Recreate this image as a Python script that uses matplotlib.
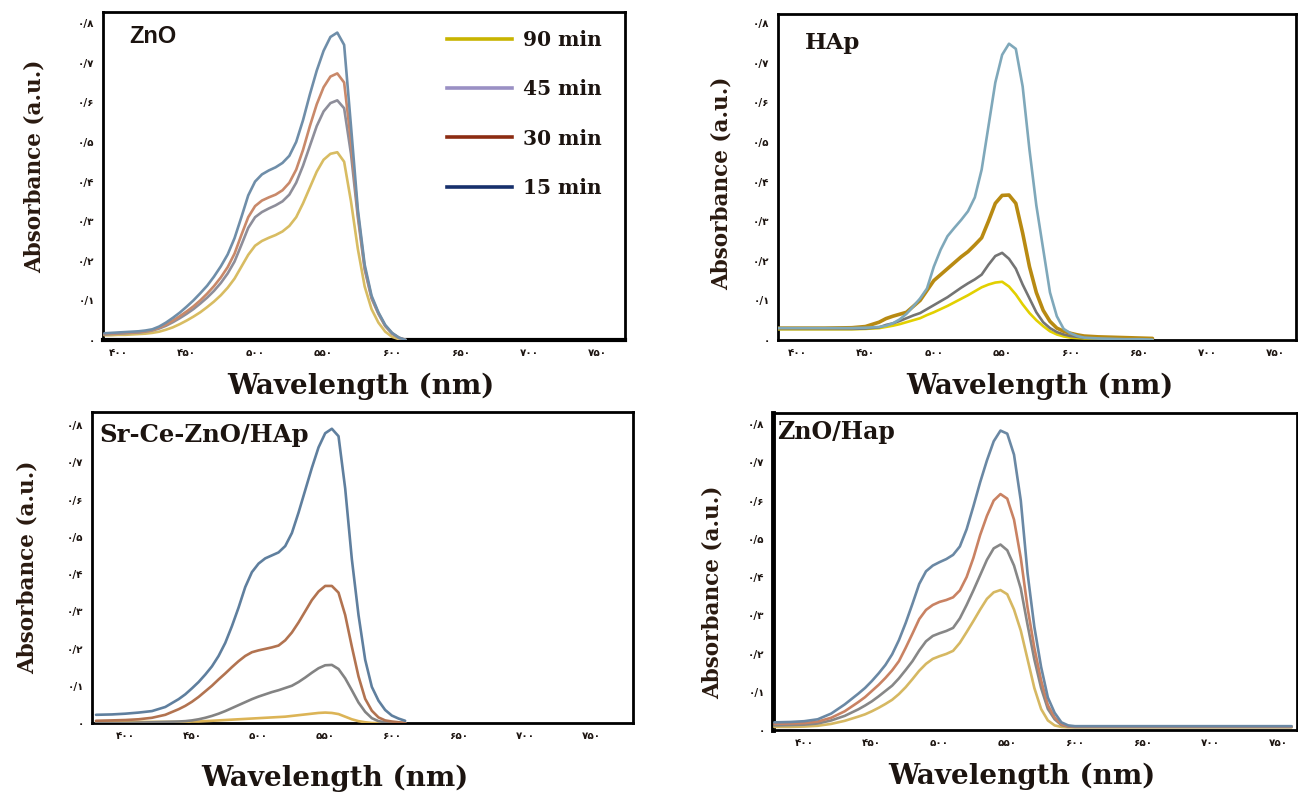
import matplotlib
matplotlib.use("Agg")
import matplotlib.pyplot as plt
from matplotlib.lines import Line2D

# ---------------- data ----------------
y_ticks = [0.0, 0.1, 0.2, 0.3, 0.4, 0.5, 0.6, 0.7, 0.8]
y_tick_labels = ['۰', '۰/۱', '۰/۲', '۰/۳', '۰/۴', '۰/۵', '۰/۶', '۰/۷', '۰/۸']
x_ticks = [400, 450, 500, 550, 600, 650, 700, 750]
x_tick_labels = ['۴۰۰', '۴۵۰', '۵۰۰', '۵۵۰', '۶۰۰', '۶۵۰', '۷۰۰', '۷۵۰']
legend_labels = ['90 min', '45 min', '30 min', '15 min']

# Panel ZnO
wl_zno = [390, 395, 400, 405, 410, 415, 420, 425, 430, 435, 440, 445, 450, 455, 460,
          465, 470, 475, 480, 485, 490, 495, 500, 505, 510, 515, 520, 525, 530, 535,
          540, 545, 550, 555, 560, 565, 570, 575, 580, 585, 590, 595, 600, 605, 610]
zno_15 = [0.017, 0.018, 0.019, 0.020, 0.021, 0.022, 0.024, 0.027, 0.034, 0.044, 0.056, 0.069,
          0.084, 0.100, 0.118, 0.137, 0.160, 0.186, 0.216, 0.257, 0.310, 0.365, 0.400, 0.418,
          0.428, 0.436, 0.447, 0.465, 0.500, 0.555, 0.620, 0.680, 0.730, 0.765, 0.776, 0.745,
          0.540, 0.330, 0.190, 0.112, 0.070, 0.038, 0.018, 0.006, 0.000]
zno_30 = [0.015, 0.016, 0.017, 0.018, 0.019, 0.020, 0.022, 0.025, 0.031, 0.039, 0.049, 0.060,
          0.072, 0.085, 0.100, 0.117, 0.136, 0.158, 0.184, 0.218, 0.265, 0.310, 0.338, 0.352,
          0.360, 0.367, 0.378, 0.397, 0.430, 0.480, 0.540, 0.595, 0.638, 0.665, 0.673, 0.650,
          0.500, 0.320, 0.183, 0.108, 0.068, 0.036, 0.017, 0.006, 0.000]
zno_45 = [0.014, 0.015, 0.016, 0.017, 0.018, 0.019, 0.021, 0.024, 0.029, 0.036, 0.045, 0.055,
          0.066, 0.078, 0.092, 0.107, 0.124, 0.144, 0.168, 0.198, 0.240, 0.283, 0.310, 0.323,
          0.332, 0.340, 0.350, 0.367, 0.397, 0.440, 0.490, 0.540, 0.577, 0.598, 0.605, 0.585,
          0.470, 0.310, 0.178, 0.105, 0.066, 0.035, 0.016, 0.005, 0.000]
zno_90 = [0.012, 0.012, 0.013, 0.013, 0.014, 0.015, 0.016, 0.018, 0.021, 0.026, 0.032, 0.040,
          0.049, 0.059, 0.070, 0.083, 0.097, 0.113, 0.132, 0.155, 0.185, 0.215, 0.238, 0.250,
          0.258, 0.265, 0.274, 0.288, 0.310, 0.345, 0.385, 0.425, 0.455, 0.470, 0.474, 0.450,
          0.350, 0.230, 0.135, 0.078, 0.044, 0.021, 0.008, 0.002, 0.000]

# Panel HAp
wl_hap = [385, 400, 420, 440, 450, 460, 465, 470, 475, 480, 485, 490, 495, 500, 505, 510,
          515, 520, 525, 530, 535, 540, 545, 550, 555, 560, 565, 570, 575, 580, 585, 590,
          595, 600, 605, 610, 620, 630, 640, 650, 660]
hap_15 = [0.030, 0.030, 0.030, 0.030, 0.031, 0.033, 0.036, 0.042, 0.052, 0.066, 0.085, 0.105,
          0.130, 0.185, 0.228, 0.262, 0.283, 0.303, 0.325, 0.360, 0.430, 0.540, 0.650, 0.720,
          0.748, 0.735, 0.640, 0.480, 0.340, 0.230, 0.120, 0.060, 0.028, 0.017, 0.010, 0.006,
          0.004, 0.003, 0.002, 0.002, 0.001]
hap_30 = [0.030, 0.030, 0.030, 0.031, 0.034, 0.045, 0.054, 0.060, 0.065, 0.070, 0.085, 0.100,
          0.125, 0.150, 0.165, 0.180, 0.195, 0.210, 0.223, 0.240, 0.258, 0.300, 0.345, 0.365,
          0.366, 0.345, 0.270, 0.185, 0.120, 0.075, 0.047, 0.030, 0.022, 0.017, 0.013, 0.010,
          0.008, 0.007, 0.006, 0.005, 0.004]
hap_45 = [0.028, 0.028, 0.028, 0.028, 0.029, 0.032, 0.038, 0.042, 0.048, 0.055, 0.062, 0.068,
          0.078, 0.088, 0.098, 0.108, 0.120, 0.132, 0.143, 0.153, 0.165, 0.190, 0.212, 0.220,
          0.205, 0.180, 0.140, 0.105, 0.070, 0.045, 0.030, 0.020, 0.014, 0.010, 0.008, 0.006,
          0.005, 0.004, 0.003, 0.003, 0.002]
hap_90 = [0.027, 0.027, 0.027, 0.027, 0.028, 0.030, 0.033, 0.036, 0.040, 0.045, 0.050, 0.055,
          0.063, 0.070, 0.078, 0.086, 0.095, 0.104, 0.113, 0.123, 0.133, 0.140, 0.145, 0.147,
          0.135, 0.115, 0.090, 0.068, 0.050, 0.035, 0.022, 0.014, 0.009, 0.006, 0.005, 0.004,
          0.004, 0.003, 0.003, 0.002, 0.002]

# Panel Sr-Ce-ZnO/HAp
wl_srce = [378, 390, 400, 410, 420, 430, 440, 445, 450, 455, 460, 465, 470, 475, 480, 485,
           490, 495, 500, 505, 510, 515, 520, 525, 530, 535, 540, 545, 550, 555, 560, 565,
           570, 575, 580, 585, 590, 595, 600, 605, 610]
srce_15 = [0.022, 0.023, 0.025, 0.028, 0.032, 0.043, 0.064, 0.077, 0.093, 0.110, 0.130, 0.152,
           0.180, 0.215, 0.260, 0.310, 0.365, 0.405, 0.428, 0.442, 0.450, 0.458, 0.475, 0.510,
           0.565, 0.625, 0.685, 0.740, 0.778, 0.790, 0.770, 0.630, 0.440, 0.290, 0.170, 0.097,
           0.060, 0.035, 0.020, 0.012, 0.006]
srce_30 = [0.006, 0.007, 0.008, 0.010, 0.014, 0.022, 0.037, 0.046, 0.057, 0.070, 0.085, 0.100,
           0.117, 0.133, 0.150, 0.166, 0.180, 0.190, 0.195, 0.199, 0.203, 0.208, 0.222, 0.243,
           0.270, 0.300, 0.330, 0.353, 0.368, 0.368, 0.350, 0.290, 0.205, 0.125, 0.065, 0.033,
           0.015, 0.007, 0.004, 0.002, 0.000]
srce_45 = [0.000, 0.000, 0.000, 0.001, 0.002, 0.003, 0.004, 0.005, 0.007, 0.010, 0.014, 0.019,
           0.025, 0.032, 0.040, 0.048, 0.056, 0.064, 0.071, 0.077, 0.083, 0.088, 0.094, 0.100,
           0.110, 0.122, 0.135, 0.147, 0.155, 0.156, 0.145, 0.120, 0.088, 0.055, 0.030, 0.013,
           0.005, 0.002, 0.000, 0.000, 0.000]
srce_90 = [0.004, 0.004, 0.004, 0.003, 0.003, 0.003, 0.003, 0.003, 0.004, 0.004, 0.005, 0.006,
           0.007, 0.008, 0.009, 0.010, 0.011, 0.012, 0.013, 0.014, 0.015, 0.016, 0.017, 0.019,
           0.021, 0.023, 0.025, 0.027, 0.028, 0.027, 0.024, 0.017, 0.010, 0.005, 0.002, 0.000,
           0.000, 0.000, 0.000, 0.000, 0.000]

# Panel ZnO/Hap
wl_znohap = [378, 390, 400, 410, 420, 430, 440, 445, 450, 455, 460, 465, 470, 475, 480, 485,
             490, 495, 500, 505, 510, 515, 520, 525, 530, 535, 540, 545, 550, 555, 560, 565,
             570, 575, 580, 585, 590, 595, 600, 605, 610, 620, 640, 660, 680, 700, 720, 740, 760]
znohap_15 = [0.020, 0.021, 0.023, 0.028, 0.043, 0.067, 0.095, 0.110, 0.128, 0.148, 0.170, 0.198,
             0.235, 0.280, 0.330, 0.382, 0.415, 0.430, 0.439, 0.447, 0.458, 0.480, 0.525, 0.585,
             0.648, 0.705, 0.755, 0.783, 0.775, 0.720, 0.600, 0.410, 0.270, 0.165, 0.085, 0.045,
             0.020, 0.012, 0.010, 0.010, 0.010, 0.010, 0.010, 0.010, 0.010, 0.010, 0.010, 0.010, 0.010]
znohap_30 = [0.016, 0.017, 0.018, 0.022, 0.032, 0.049, 0.073, 0.086, 0.102, 0.118, 0.136, 0.156,
             0.180, 0.215, 0.252, 0.290, 0.314, 0.327, 0.335, 0.340, 0.347, 0.365, 0.400, 0.450,
             0.510, 0.560, 0.600, 0.617, 0.605, 0.550, 0.450, 0.320, 0.215, 0.130, 0.065, 0.033,
             0.015, 0.010, 0.009, 0.009, 0.009, 0.009, 0.009, 0.009, 0.009, 0.009, 0.009, 0.009, 0.009]
znohap_45 = [0.012, 0.013, 0.014, 0.017, 0.025, 0.037, 0.054, 0.064, 0.075, 0.088, 0.102, 0.116,
             0.135, 0.157, 0.180, 0.208, 0.232, 0.246, 0.253, 0.259, 0.267, 0.292, 0.327, 0.365,
             0.405, 0.445, 0.475, 0.485, 0.470, 0.430, 0.370, 0.275, 0.185, 0.110, 0.055, 0.028,
             0.013, 0.009, 0.008, 0.008, 0.008, 0.008, 0.008, 0.008, 0.008, 0.008, 0.008, 0.008, 0.008]
znohap_90 = [0.008, 0.008, 0.009, 0.011, 0.016, 0.024, 0.035, 0.041, 0.049, 0.058, 0.068, 0.079,
             0.094, 0.112, 0.133, 0.155, 0.173, 0.186, 0.193, 0.199, 0.207, 0.228, 0.256, 0.285,
             0.315, 0.343, 0.360, 0.366, 0.355, 0.315, 0.260, 0.185, 0.110, 0.055, 0.025, 0.012,
             0.008, 0.007, 0.007, 0.007, 0.007, 0.007, 0.007, 0.007, 0.007, 0.007, 0.007, 0.007, 0.007]

# ---------------- figure ----------------
W, H = 1298, 796
fig = plt.figure(figsize=(W / 100, H / 100), dpi=100)
fig.patch.set_facecolor('white')

SERIF = ['DejaVu Serif']
DIGITS = ['DejaVu Sans']
TXT = '#1c1410'


def px_axes(left, top, right, bottom):
    return fig.add_axes([left / W, 1 - bottom / H, (right - left) / W, (bottom - top) / H])


panels = [
    dict(box=(103, 12, 625, 340), xlim=(389, 770), ylim=(0, 0.828), wl=wl_zno,
         series=[(zno_90, '#d8bc62', 1.9), (zno_45, '#8e8e9a', 1.9), (zno_30, '#c9896a', 1.9),
                 (zno_15, '#6f8ea9', 1.9)],
         title='ZnO', tfam=['Liberation Sans'], tsize=17, tpos=(0.05, 0.925),
         ylab=(35, 166), xlab=(361, 386)),
    dict(box=(778, 14, 1296, 340), xlim=(386, 765), ylim=(0, 0.823), wl=wl_hap,
         series=[(hap_90, '#e2d000', 1.9), (hap_45, '#747474', 1.9), (hap_30, '#b88a12', 2.6),
                 (hap_15, '#7fa8ba', 1.9)],
         title='HAp', tfam=SERIF, tsize=16.5, tpos=(0.052, 0.912),
         ylab=(722, 183), xlab=(1040, 386)),
    dict(box=(92, 412, 633, 723), xlim=(375, 781), ylim=(0, 0.835), wl=wl_srce,
         series=[(srce_90, '#dcb456', 1.9), (srce_45, '#838383', 1.9), (srce_30, '#b27350', 1.9),
                 (srce_15, '#5f7f9e', 1.9)],
         title='Sr-Ce-ZnO/HAp', tfam=SERIF, tsize=17.5, tpos=(0.013, 0.925),
         ylab=(28, 567), xlab=(335, 778)),
    dict(box=(773, 413, 1297, 730), xlim=(377, 764), ylim=(0, 0.829), wl=wl_znohap,
         series=[(znohap_90, '#d6b862', 1.9), (znohap_45, '#878787', 1.9),
                 (znohap_30, '#c98263', 1.9), (znohap_15, '#6a88a4', 1.9)],
         title='ZnO/Hap', tfam=SERIF, tsize=17, tpos=(0.008, 0.94),
         ylab=(713, 592), xlab=(1022, 776)),
]

axes = []
for p in panels:
    ax = px_axes(*p['box'])
    axes.append(ax)
    for vals, col, lw in p['series']:
        ax.plot(p['wl'], vals, color=col, lw=lw, solid_capstyle='round',
                solid_joinstyle='round', zorder=3)
    ax.set_xlim(*p['xlim'])
    ax.set_ylim(*p['ylim'])
    ax.set_xticks(x_ticks)
    ax.set_xticklabels(x_tick_labels, family=DIGITS, fontsize=7.5, fontweight='bold', color=TXT)
    ax.set_yticks(y_ticks)
    ax.set_yticklabels(y_tick_labels, family=DIGITS, fontsize=7.5, fontweight='bold', color=TXT)
    ax.tick_params(length=0, pad=6)
    for s in ax.spines.values():
        s.set_linewidth(2.0)
        s.set_color('black')
    ax.text(p['tpos'][0], p['tpos'][1], p['title'], transform=ax.transAxes,
            family=p['tfam'], fontsize=p['tsize'], fontweight='bold', color=TXT,
            ha='left', va='center')
    fig.text(p['ylab'][0] / W, 1 - p['ylab'][1] / H, 'Absorbance (a.u.)', rotation=90,
             family=SERIF, fontsize=15.5, fontweight='bold', color='#2a1a10',
             ha='center', va='center')
    fig.text(p['xlab'][0] / W, 1 - p['xlab'][1] / H, 'Wavelength (nm)',
             family=SERIF, fontsize=20, fontweight='bold', color=TXT,
             ha='center', va='center')

axes[0].spines['bottom'].set_linewidth(3.0)
axes[3].spines['left'].set_linewidth(3.5)

legend_colors = ['#c8b400', '#9a90c4', '#8c2c12', '#17306c']
handles = [Line2D([], [], color=c, lw=2.6) for c in legend_colors]
leg = axes[0].legend(handles, legend_labels, loc='upper left', bbox_to_anchor=(0.625, 1.0),
                     frameon=False, handlelength=3.2, handletextpad=0.55, labelspacing=1.45,
                     prop=dict(family=SERIF, size=14.5, weight='bold'))
for t in leg.get_texts():
    t.set_color(TXT)

fig.savefig('out.png', dpi=100, facecolor='white')
